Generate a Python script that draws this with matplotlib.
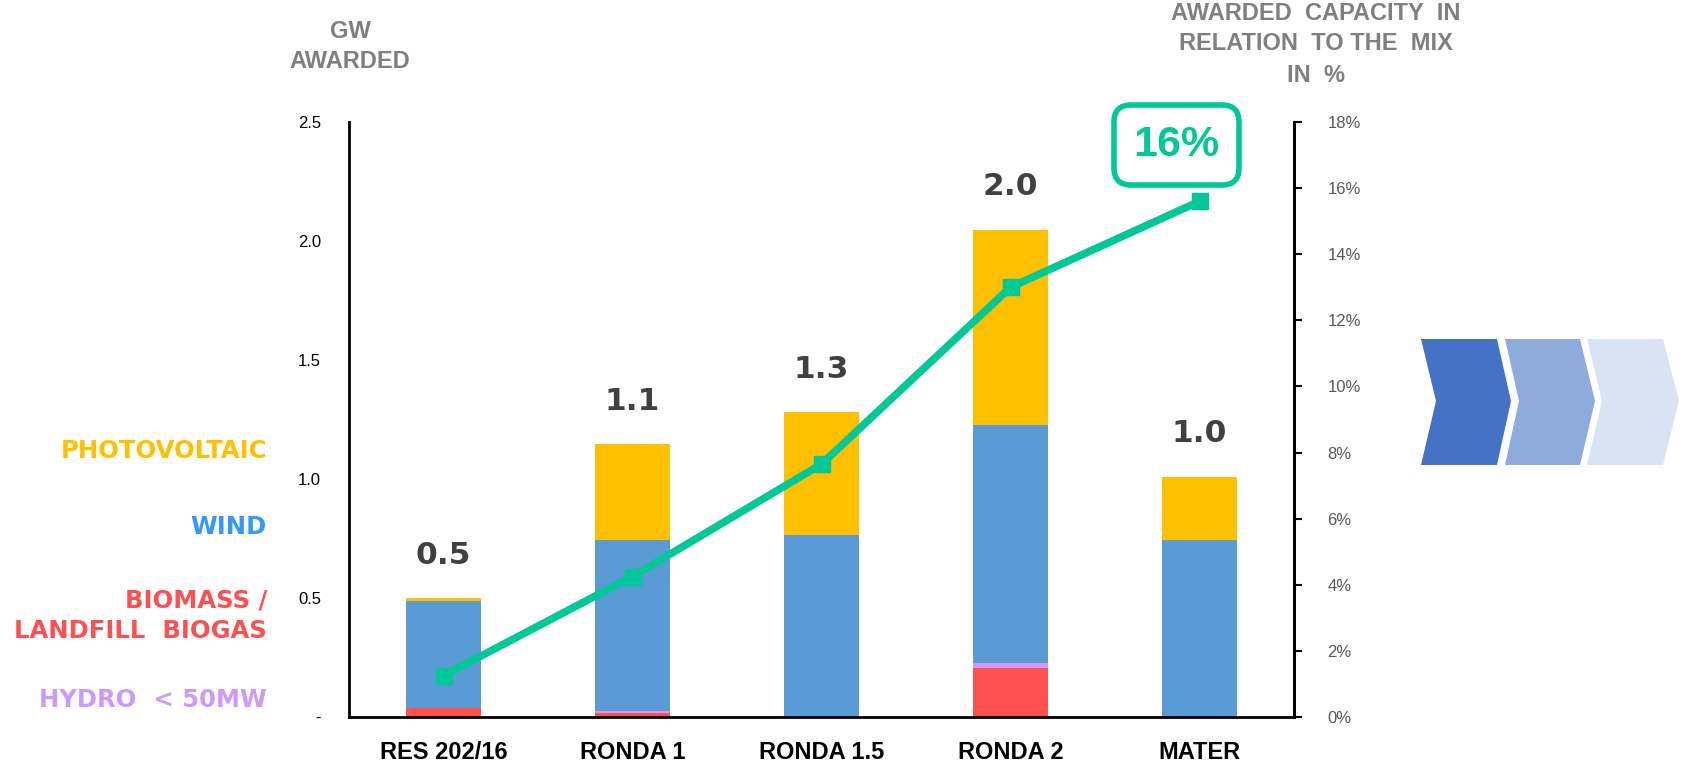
import matplotlib
matplotlib.use('Agg')
import matplotlib.pyplot as plt
from matplotlib.patches import Polygon, FancyBboxPatch
import numpy as np

# ---- data ----
categories = ['RES 202/16', 'RONDA 1', 'RONDA 1.5', 'RONDA 2', 'MATER']
biomass = [0.036, 0.015, 0.0, 0.204, 0.0]
hydro = [0.0, 0.012, 0.0, 0.022, 0.0]
wind = [0.452, 0.716, 0.765, 1.001, 0.743]
solar = [0.010, 0.403, 0.517, 0.820, 0.267]
totals_lbl = ['0.5', '1.1', '1.3', '2.0', '1.0']
share_pct = [1.25, 4.25, 7.65, 13.0, 15.6]
share_highlight = '16%'

legend_items = [('PHOTOVOLTAIC', '#FFC000'), ('WIND', '#3399FF'),
                ('BIOMASS /', '#FF5050'), ('LANDFILL  BIOGAS', '#FF5050'),
                ('HYDRO  < 50MW', '#CC99FF')]

# ---- colours ----
c_solar = '#FFC000'
c_wind = '#5B9BD5'
c_bio = '#FF5050'
c_hydro = '#CC99FF'
c_line = '#00C896'
c_head = '#7F7F7F'

W, H = 1691, 771
fig = plt.figure(figsize=(W / 100, H / 100), dpi=100)
ax = fig.add_axes([349 / W, 1 - 717 / H, (1294 - 349) / W, (717 - 122) / H])

x = np.arange(len(categories))
bw = 0.4
b0 = np.zeros(len(x))
for vals, col in [(biomass, c_bio), (hydro, c_hydro), (wind, c_wind), (solar, c_solar)]:
    ax.bar(x, vals, bw, bottom=b0, color=col, zorder=2)
    b0 = b0 + np.array(vals)

for xi, tot, lbl in zip(x, b0, totals_lbl):
    ax.text(xi, tot + 0.18, lbl, ha='center', va='center', fontsize=22.5,
            fontweight='bold', color='#404040', family='DejaVu Sans')

ax.set_xlim(-0.5, 4.5)
ax.set_ylim(0, 2.5)
ax.set_yticks(np.arange(0, 2.51, 0.5))
ax.set_yticklabels(['-'] + [f'{v:.1f}' for v in np.arange(0.5, 2.51, 0.5)],
                   fontsize=12, family='Liberation Sans')
ax.tick_params(axis='y', length=0, pad=20)
ax.set_xticks(x)
ax.set_xticklabels(categories, fontsize=17, fontweight='bold', family='Liberation Sans')
ax.tick_params(axis='x', length=0, pad=17)
ax.spines['top'].set_visible(False)
for s in ['left', 'bottom', 'right']:
    ax.spines[s].set_linewidth(2)
    ax.spines[s].set_color('black')

ax2 = ax.twinx()
ax2.plot(x, share_pct, color=c_line, lw=5.5, marker='s', ms=12, zorder=5)
ax2.set_ylim(0, 18)
ax2.set_yticks(np.arange(0, 19, 2))
ax2.set_yticklabels([f'{v}%' for v in range(0, 19, 2)], fontsize=12,
                    color='#595959', family='Liberation Sans')
ax2.tick_params(axis='y', length=6, width=1.5, pad=18)
ax2.spines['top'].set_visible(False)
ax2.spines['right'].set_linewidth(2)

# ---- headers ----
for txt, py in [('GW', 32), ('AWARDED', 62)]:
    fig.text(350 / W, 1 - py / H, txt, ha='center', va='center', fontsize=17,
             fontweight='bold', color=c_head, family='Liberation Sans')
for txt, py in [('AWARDED  CAPACITY  IN', 13), ('RELATION  TO THE  MIX', 43), ('IN  %', 75)]:
    fig.text(1316 / W, 1 - py / H, txt, ha='center', va='center', fontsize=17,
             fontweight='bold', color=c_head, family='Liberation Sans')

# ---- left legend ----
for (txt, col), py in zip(legend_items, [451, 527, 601, 631, 700]):
    fig.text(267 / W, 1 - py / H, txt, ha='right', va='center', fontsize=17.5,
             fontweight='bold', color=col, family='DejaVu Sans')

# ---- highlight box ----
tr = fig.dpi_scale_trans
box = FancyBboxPatch((11.14, 5.86), 1.25, 0.80, boxstyle='round,pad=0,rounding_size=0.17',
                     fill=False, ec=c_line, lw=4, transform=tr)
fig.patches.append(box)
fig.text(11.765 / (W / 100), 6.26 / (H / 100), share_highlight, ha='center', va='center',
         fontsize=31, fontweight='bold', color=c_line, family='Liberation Sans')

# ---- chevrons ----
y_lo, y_mid, y_hi = 3.06, 3.70, 4.32
chev = [(14.21, 14.36, 14.97, 15.11, '#4472C4'),
        (15.05, 15.19, 15.80, 15.95, '#8FAADC'),
        (15.87, 16.02, 16.63, 16.79, '#DAE3F3')]
for xl, xn, xr, xt, col in chev:
    pts = [(xl, y_hi), (xr, y_hi), (xt, y_mid), (xr, y_lo), (xl, y_lo), (xn, y_mid)]
    fig.patches.append(Polygon(pts, closed=True, fc=col, ec='none', transform=tr))

fig.savefig('out.png', dpi=100)
